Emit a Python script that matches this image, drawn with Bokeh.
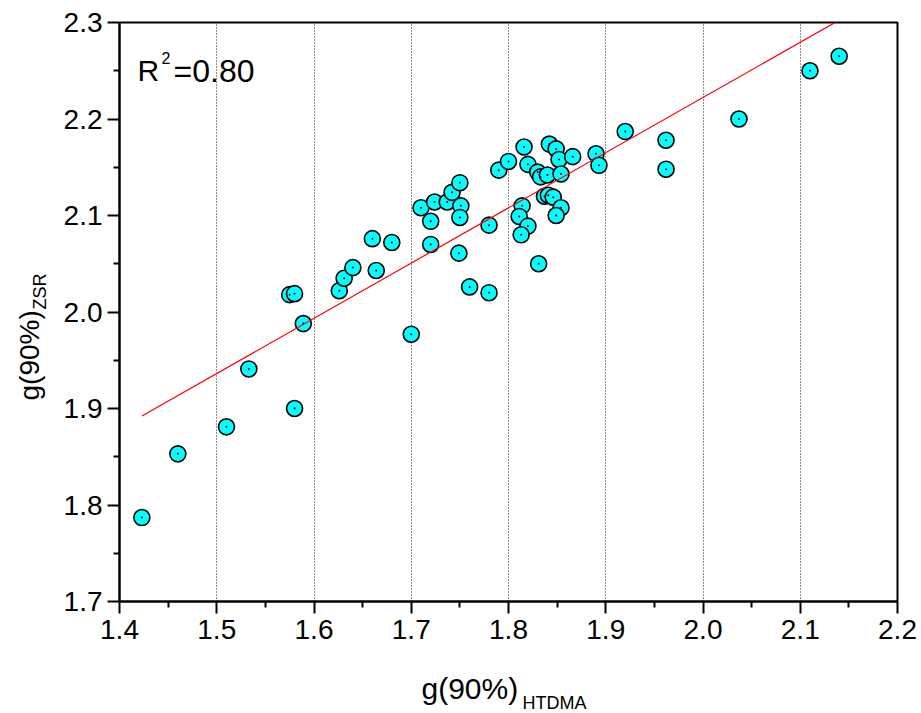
from bokeh.plotting import figure
from bokeh.models import Label, FixedTicker, Range1d, Title, LinearAxis
from bokeh.embed import file_html
from bokeh.resources import INLINE

# ---- data ----
g_htdma = [1.423, 1.460, 1.510, 1.533, 1.580, 1.589, 1.575, 1.580, 1.626, 1.631,
           1.640, 1.660, 1.664, 1.680, 1.700, 1.710, 1.720, 1.720, 1.724, 1.737,
           1.742, 1.750, 1.751, 1.750, 1.749, 1.760, 1.780, 1.780, 1.790, 1.800,
           1.816, 1.820, 1.830, 1.833, 1.840, 1.842, 1.849, 1.852, 1.854, 1.866,
           1.890, 1.893, 1.920, 1.962, 1.962, 2.037, 2.110, 2.140, 1.814, 1.811,
           1.820, 1.813, 1.837, 1.841, 1.846, 1.854, 1.849, 1.831]
g_zsr = [1.787, 1.853, 1.881, 1.941, 1.900, 1.988, 2.018, 2.019, 2.022, 2.035,
         2.046, 2.076, 2.043, 2.072, 1.977, 2.108, 2.094, 2.070, 2.114, 2.114,
         2.124, 2.134, 2.110, 2.098, 2.061, 2.026, 2.020, 2.090, 2.147, 2.156,
         2.171, 2.153, 2.145, 2.140, 2.142, 2.174, 2.169, 2.158, 2.143, 2.161,
         2.164, 2.152, 2.187, 2.178, 2.148, 2.200, 2.250, 2.265, 2.110, 2.099,
         2.089, 2.080, 2.120, 2.121, 2.119, 2.108, 2.100, 2.050]

fit_intercept = 1.0783
fit_slope = 0.572
r_squared = "0.80"

x_ticks = [1.4, 1.5, 1.6, 1.7, 1.8, 1.9, 2.0, 2.1, 2.2]
x_tick_labels = ["1.4", "1.5", "1.6", "1.7", "1.8", "1.9", "2.0", "2.1", "2.2"]
y_ticks = [1.7, 1.8, 1.9, 2.0, 2.1, 2.2, 2.3]
y_tick_labels = ["1.7", "1.8", "1.9", "2.0", "2.1", "2.2", "2.3"]

x_label_main, x_label_sub = "g(90%)", "HTDMA"
y_label_main, y_label_sub = "g(90%)", "ZSR"

FONT = "Liberation Sans"

p = figure(width=921, height=713, output_backend="svg", toolbar_location=None,
           x_range=Range1d(1.4, 2.2), y_range=Range1d(1.7, 2.3),
           min_border_left=119, min_border_right=24, min_border_top=22,
           min_border_bottom=112)
p.background_fill_color = "white"
p.border_fill_color = "white"
p.outline_line_color = "black"
p.outline_line_width = 2

x_minor = [round(a + 0.05, 3) for a in x_ticks[:-1]]
y_minor = [round(a + 0.05, 3) for a in y_ticks[:-1]]
p.xaxis.ticker = FixedTicker(ticks=x_ticks, minor_ticks=x_minor)
p.yaxis.ticker = FixedTicker(ticks=y_ticks, minor_ticks=y_minor)
p.xaxis.major_label_overrides = dict(zip(x_ticks, x_tick_labels))
p.yaxis.major_label_overrides = dict(zip(y_ticks, y_tick_labels))

for ax in (p.xaxis, p.yaxis):
    ax.axis_line_width = 2
    ax.axis_line_color = "black"
    ax.major_tick_line_width = 2
    ax.minor_tick_line_width = 2
    ax.major_tick_in = 0
    ax.major_tick_out = 12
    ax.minor_tick_in = 0
    ax.minor_tick_out = 6
    ax.major_label_text_font = FONT
    ax.major_label_text_font_size = "28px"
    ax.major_label_text_color = "black"
    ax.axis_label = None
p.xaxis.major_label_standoff = 6
p.yaxis.major_label_standoff = 5

p.ygrid.visible = False
p.xgrid.grid_line_color = "#222222"
p.xgrid.grid_line_dash = "1 2"
p.xgrid.grid_line_width = 1

# points
p.scatter(g_htdma, g_zsr, size=16, fill_color="#00FFFF", line_color="black",
          line_width=1.6)
p.scatter(g_htdma, g_zsr, size=2, fill_color="black", line_color=None)

# fit line
x0, x1 = min(g_htdma), max(g_htdma)
p.line([x0, x1], [fit_intercept + fit_slope * x0, fit_intercept + fit_slope * x1],
       line_color="#ff0000", line_width=1.2)

FL, FB = 119, 601


def txt(px, py, s, size):
    p.add_layout(Label(x=px - FL, y=FB - py, x_units="screen", y_units="screen",
                       text=s, text_font=FONT, text_font_size=size,
                       text_color="black", text_baseline="alphabetic",
                       text_align="left"))


# R^2 annotation
txt(137, 70, "R", "30px")
txt(161, 57, "2", "16px")
txt(173, 70, "=" + r_squared, "32px")


def spacer(side, tick_pos, size):
    # invisible axis used only to reserve space in a side panel
    ax = LinearAxis(ticker=FixedTicker(ticks=[tick_pos], minor_ticks=[]),
                    axis_line_color=None, major_tick_line_color=None,
                    minor_tick_line_color=None, major_tick_in=0,
                    major_tick_out=size, minor_tick_in=0, minor_tick_out=0,
                    major_label_standoff=0, axis_label=None,
                    major_label_overrides={tick_pos: ""})
    p.add_layout(ax, side)


def title(text, side, offset, standoff, size):
    p.add_layout(Title(text=text, align="left", offset=offset, standoff=standoff,
                       text_font=FONT, text_font_size=size,
                       text_font_style="normal", text_color="black",
                       vertical_align="bottom"), side)


# x axis label (main then subscript, stacked below the axis)
spacer("below", x_ticks[0], 34)
title(x_label_main, "below", 302, -12, "30px")
title(x_label_sub, "below", 403, -16, "18px")

# y axis label (subscript is nearer to the axis)
spacer("left", y_ticks[0], 16)
title(y_label_sub, "left", 292, -10, "18px")
title(y_label_main, "left", 201, -24, "28px")

open("out.html", "w").write(file_html(p, INLINE))
